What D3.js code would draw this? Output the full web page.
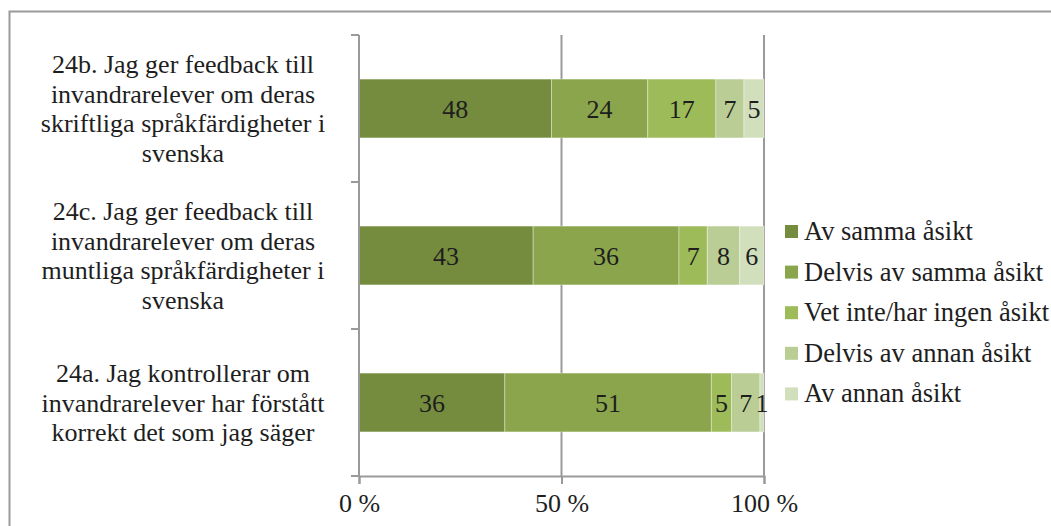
<!DOCTYPE html>
<html>
<head>
<meta charset="utf-8">
<script src="https://cdn.jsdelivr.net/npm/d3@7"></script>
<style>
  body { margin: 0; background: #fff; }
  svg text { font-family: "Liberation Serif", "Times New Roman", Times, serif; fill: #1e1e1e; }
</style>
</head>
<body>
<svg id="chart" width="1051" height="526"></svg>
<script>
// categories, top to bottom
const categories = ['24b', '24c', '24a'];
const categoryLabels = [
  ['24b. Jag ger feedback till', 'invandrarelever om deras', 'skriftliga språkfärdigheter i', 'svenska'],
  ['24c. Jag ger feedback till', 'invandrarelever om deras', 'muntliga språkfärdigheter i', 'svenska'],
  ['24a. Jag kontrollerar om', 'invandrarelever har förstått', 'korrekt det som jag säger']
];
const seriesNames = ['Av samma åsikt', 'Delvis av samma åsikt', 'Vet inte/har ingen åsikt', 'Delvis av annan åsikt', 'Av annan åsikt'];
const seriesColors = ['#758c3f', '#8aa54c', '#9dbb59', '#b9cd95', '#d1dfbd'];
// values per series, same order as categories
const avSamma = [48, 43, 36];
const delvisSamma = [24, 36, 51];
const vetInte = [17, 7, 5];
const delvisAnnan = [7, 8, 7];
const avAnnan = [5, 6, 1];
const xTicks = [0, 50, 100];

const series = [avSamma, delvisSamma, vetInte, delvisAnnan, avAnnan];

const svg = d3.select('#chart');
const fontSize = 26;

// outer frame
svg.append('rect')
  .attr('x', 9.5).attr('y', 11.5)
  .attr('width', 1100).attr('height', 600)
  .attr('fill', 'none').attr('stroke', '#9a9a9a').attr('stroke-width', 2);

const x = d3.scaleLinear().domain([0, 100]).range([359, 764]);
const y = d3.scaleBand().domain(categories).range([35, 476]).paddingInner(0.6).paddingOuter(0.3);

// build stacked rows, normalised to 100 %
const rows = categories.map((c, i) => {
  const vals = series.map(s => s[i]);
  const total = d3.sum(vals);
  let acc = 0;
  return vals.map((v, k) => {
    const seg = { cat: c, k: k, v: v, x0: acc / total * 100, x1: (acc + v) / total * 100 };
    acc += v;
    return seg;
  });
});

// gridlines
svg.append('g').selectAll('line')
  .data(xTicks.slice(1))
  .join('line')
  .attr('x1', d => x(d)).attr('x2', d => x(d))
  .attr('y1', 35).attr('y2', 476)
  .attr('stroke', '#9a9a9a').attr('stroke-width', 2);

// bars
const bars = svg.append('g');
rows.forEach(row => {
  bars.selectAll(null)
    .data(row)
    .join('rect')
    .attr('x', d => x(d.x0))
    .attr('width', d => x(d.x1) - x(d.x0))
    .attr('y', d => y(d.cat))
    .attr('height', y.bandwidth())
    .attr('fill', d => seriesColors[d.k])
    .attr('stroke', '#ffffff').attr('stroke-opacity', 0.35).attr('stroke-width', 1);
  bars.selectAll(null)
    .data(row)
    .join('text')
    .attr('x', d => (x(d.x0) + x(d.x1)) / 2)
    .attr('y', d => y(d.cat) + y.bandwidth() / 2)
    .attr('dy', '0.36em')
    .attr('text-anchor', 'middle')
    .style('font-size', fontSize + 'px')
    .text(d => d.v);
});

// y axis: line with ticks at band borders
const yAxis = svg.append('g');
yAxis.append('line')
  .attr('x1', 359).attr('x2', 359).attr('y1', 35).attr('y2', 476)
  .attr('stroke', '#9a9a9a').attr('stroke-width', 2);
const step = (476 - 35) / categories.length;
yAxis.selectAll('line.tick')
  .data(d3.range(categories.length + 1))
  .join('line')
  .attr('class', 'tick')
  .attr('x1', 351).attr('x2', 359)
  .attr('y1', i => 35 + i * step).attr('y2', i => 35 + i * step)
  .attr('stroke', '#9a9a9a').attr('stroke-width', 2);

// x axis
const xAxis = svg.append('g').attr('transform', 'translate(0,476)')
  .call(d3.axisBottom(x).tickValues(xTicks).tickSize(8).tickPadding(10).tickFormat(d => d + ' %'));
xAxis.select('.domain').attr('stroke', '#9a9a9a').attr('stroke-width', 2);
xAxis.selectAll('.tick line').attr('stroke', '#9a9a9a').attr('stroke-width', 2);
xAxis.selectAll('.tick text')
  .style('font-size', fontSize + 'px')
  .style('font-family', '"Liberation Serif", "Times New Roman", serif')
  .attr('fill', '#1e1e1e');

// category labels
const lh = 29.5;
svg.append('g').selectAll('text')
  .data(categories)
  .join('text')
  .attr('text-anchor', 'middle')
  .style('font-size', fontSize + 'px')
  .each(function(c, i) {
    const lines = categoryLabels[i];
    const cy = y(c) + y.bandwidth() / 2;
    const y0 = cy - (lines.length - 1) / 2 * lh + 9;
    d3.select(this).selectAll('tspan')
      .data(lines)
      .join('tspan')
      .attr('x', 183)
      .attr('y', (d, j) => y0 + j * lh)
      .text(d => d);
  });

// legend
const legend = svg.append('g').attr('transform', 'translate(785,232)');
const items = legend.selectAll('g')
  .data(seriesNames)
  .join('g')
  .attr('transform', (d, i) => `translate(0,${i * 40.6})`);
items.append('rect')
  .attr('x', 0).attr('y', -7).attr('width', 13).attr('height', 13)
  .attr('fill', (d, i) => seriesColors[i]);
items.append('text')
  .attr('x', 19).attr('y', 0).attr('dy', '0.3em')
  .style('font-size', '26.5px')
  .text(d => d);
</script>
</body>
</html>
